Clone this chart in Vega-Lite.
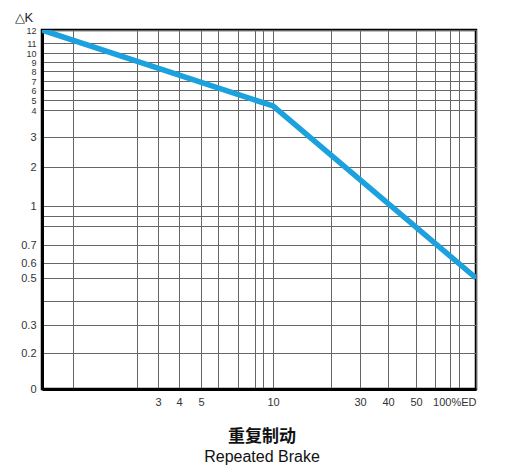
{
  "$schema": "https://vega.github.io/schema/vega-lite/v6.json",
  "autosize": {"type": "none"},
  "width": 434,
  "height": 359,
  "padding": {"left": 42, "top": 30, "right": 36, "bottom": 82},
  "background": "white",
  "config": {
    "view": {"stroke": "black", "strokeWidth": 2.5},
    "font": "Liberation Sans"
  },
  "title": {
    "text": "重复制动",
    "subtitle": "Repeated Brake",
    "orient": "bottom",
    "anchor": "middle",
    "font": "Noto Sans CJK SC",
    "fontSize": 17,
    "fontWeight": "bold",
    "color": "#111",
    "subtitleFont": "Liberation Sans",
    "subtitleFontSize": 16,
    "subtitleColor": "#111",
    "offset": 22,
    "subtitlePadding": 3,
    "dx": 3
  },
  "data": {
    "values": [
      {"ed": 1, "dk": 12},
      {"ed": 10, "dk": 4.4},
      {"ed": 100, "dk": 0.5}
    ]
  },
  "mark": {"type": "line", "color": "#1ba1dd", "strokeWidth": 5.5, "clip": true},
  "encoding": {
    "x": {
      "field": "ed",
      "type": "quantitative",
      "scale": {
        "domain": [1, 1.5, 2, 3, 4, 5, 6, 7, 8, 9, 10, 20, 30, 40, 50, 60, 70, 80, 100],
        "range": [0, 31, 95, 116, 137, 159, 176, 196, 213, 221, 231, 289, 318, 346, 374, 393, 408, 417, 434],
        "nice": false,
        "zero": false
      },
      "axis": {
        "title": null,
        "values": [1.5, 2, 3, 4, 5, 6, 7, 8, 9, 10, 20, 30, 40, 50, 60, 70, 80, 100],
        "labelExpr": "indexof([3,4,5,10,30,40,50], datum.value) >= 0 ? datum.value + '' : (datum.value == 100 ? '100%ED' : '')",
        "grid": true,
        "gridColor": "#666",
        "gridWidth": 1,
        "ticks": false,
        "domain": true,
        "domainColor": "black",
        "domainWidth": 3,
        "labelFont": "Liberation Sans",
        "labelFontSize": 11,
        "labelColor": "#333",
        "labelPadding": 7,
        "labelOverlap": false
      }
    },
    "y": {
      "field": "dk",
      "type": "quantitative",
      "scale": {
        "domain": [0, 0.2, 0.3, 0.4, 0.5, 0.6, 0.7, 0.8, 0.9, 1, 2, 3, 4, 5, 6, 7, 8, 9, 10, 11, 12],
        "range": [359, 323, 295, 271, 248, 233, 215, 196, 186, 176, 137, 107, 80, 70, 60, 51, 41, 32, 23, 13, 0],
        "nice": false,
        "zero": false
      },
      "axis": {
        "title": "△K",
        "titleAngle": 0,
        "titleAlign": "left",
        "titleBaseline": "alphabetic",
        "titleX": -28,
        "titleY": -9,
        "titleFont": "Liberation Sans",
        "titleFontSize": 13,
        "titleFontWeight": "normal",
        "titleColor": "#222",
        "values": [0, 0.2, 0.3, 0.4, 0.5, 0.6, 0.7, 0.8, 0.9, 1, 2, 3, 4, 5, 6, 7, 8, 9, 10, 11, 12],
        "labelExpr": "(datum.value == 0.4 || datum.value == 0.8 || datum.value == 0.9) ? '' : format(datum.value, '.1~f')",
        "labelFontSize": {"expr": "datum.value >= 4 ? 9 : 11"},
        "grid": true,
        "gridColor": "#666",
        "gridWidth": 1,
        "ticks": false,
        "domain": true,
        "domainColor": "black",
        "domainWidth": 3,
        "labelFont": "Liberation Sans",
        "labelColor": "#333",
        "labelPadding": 6,
        "labelOverlap": false
      }
    }
  }
}
